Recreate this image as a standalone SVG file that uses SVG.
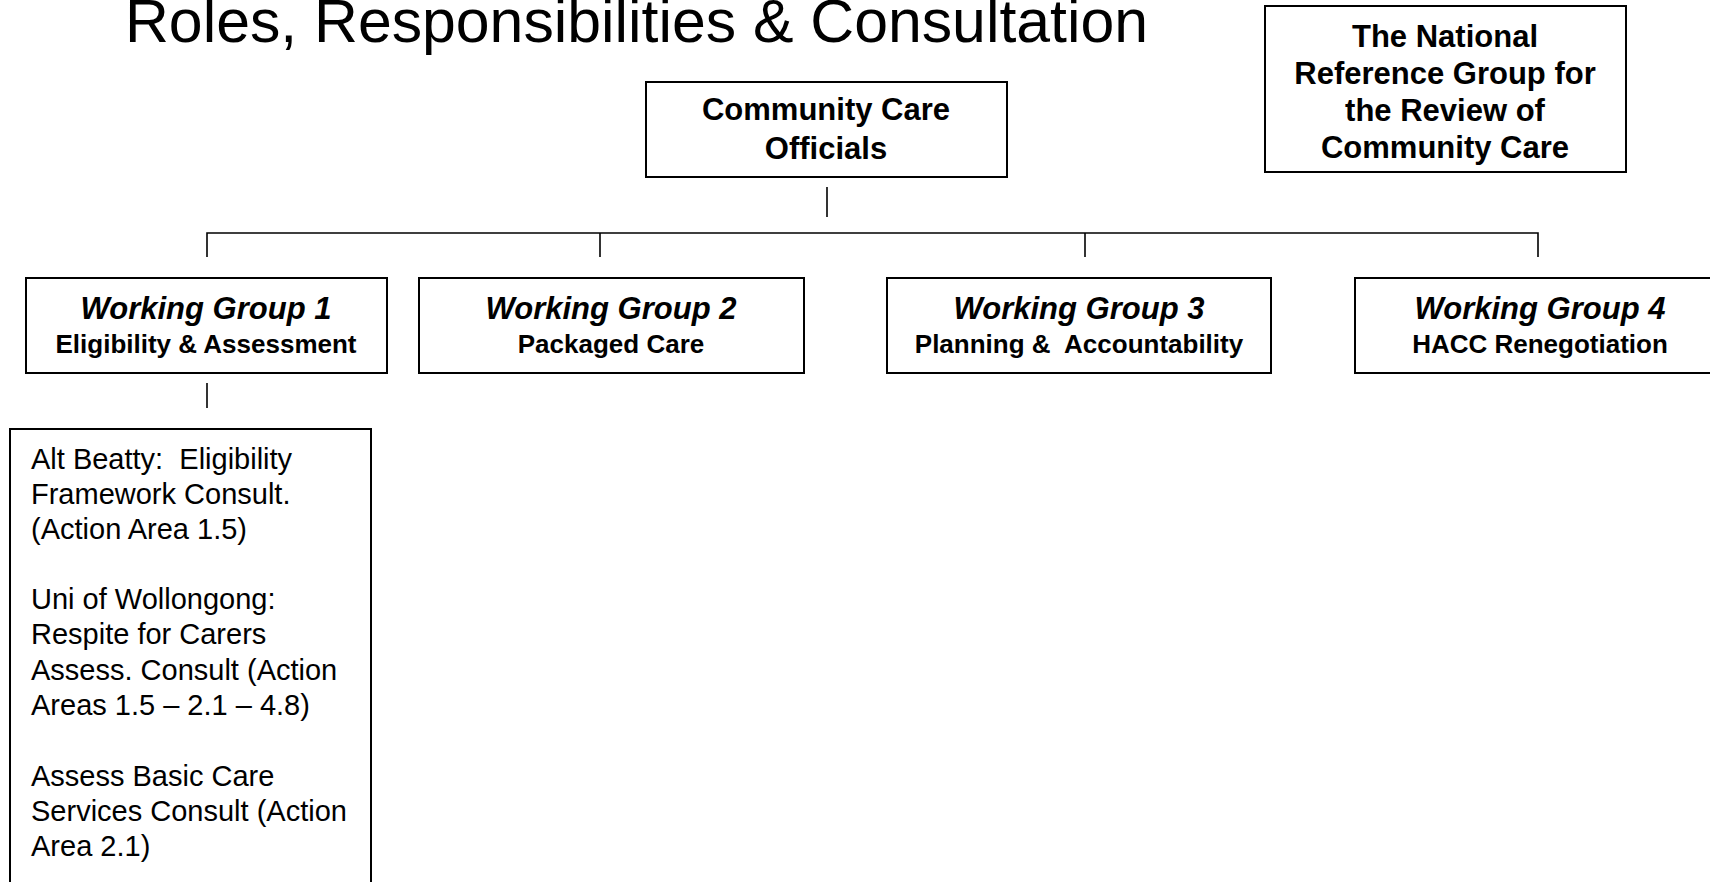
<svg xmlns="http://www.w3.org/2000/svg" width="1710" height="882" viewBox="0 0 1710 882">
<style>
.box{fill:#fff;stroke:#000;stroke-width:2}
.con{stroke:#000;stroke-width:1.6;fill:none}
.t{font-family:"Liberation Sans",Arial,sans-serif;fill:#000}
.b{font-weight:bold}
.h{font-weight:bold;font-style:italic;font-size:31px}
.s{font-weight:bold;font-size:26px}
.r{font-size:29px;white-space:pre}
</style>
<rect width="1710" height="882" fill="#fff"/>
<text class="t" x="125" y="42" font-size="61" textLength="1023" lengthAdjust="spacingAndGlyphs">Roles, Responsibilities &amp; Consultation</text>
<g id="connectors">
<line class="con" x1="827" y1="187" x2="827" y2="217"/>
<polyline class="con" points="207,257 207,233 1538,233 1538,257"/>
<line class="con" x1="600" y1="233" x2="600" y2="257"/>
<line class="con" x1="1085" y1="233" x2="1085" y2="257"/>
<line class="con" x1="207" y1="383" x2="207" y2="408"/>
</g>
<g id="national-reference-group">
<rect class="box" x="1265" y="6" width="361" height="166"/>
<text class="t b" font-size="31" text-anchor="middle"><tspan x="1445" y="47">The National</tspan><tspan x="1445" y="84">Reference Group for</tspan><tspan x="1445" y="121">the Review of</tspan><tspan x="1445" y="158">Community Care</tspan></text>
</g>
<g id="community-care-officials">
<rect class="box" x="646" y="82" width="361" height="95"/>
<text class="t b" font-size="31" text-anchor="middle"><tspan x="826" y="120">Community Care</tspan><tspan x="826" y="159">Officials</tspan></text>
</g>
<g id="wg1">
<rect class="box" x="26" y="278" width="361" height="95"/>
<text class="t h" x="206" y="319" text-anchor="middle">Working Group 1</text>
<text class="t s" x="206" y="353" text-anchor="middle">Eligibility &amp; Assessment</text>
</g>
<g id="wg2">
<rect class="box" x="419" y="278" width="385" height="95"/>
<text class="t h" x="611" y="319" text-anchor="middle">Working Group 2</text>
<text class="t s" x="611" y="353" text-anchor="middle">Packaged Care</text>
</g>
<g id="wg3">
<rect class="box" x="887" y="278" width="384" height="95"/>
<text class="t h" x="1079" y="319" text-anchor="middle">Working Group 3</text>
<text class="t s" x="1079" y="353" text-anchor="middle" style="white-space:pre">Planning &amp;  Accountability</text>
</g>
<g id="wg4">
<rect class="box" x="1355" y="278" width="370" height="95"/>
<text class="t h" x="1540" y="319" text-anchor="middle">Working Group 4</text>
<text class="t s" x="1540" y="353" text-anchor="middle">HACC Renegotiation</text>
</g>
<g id="wg1-consultations">
<rect class="box" x="10" y="429" width="361" height="480"/>
<text class="t r"><tspan x="31" y="469">Alt Beatty:  Eligibility</tspan><tspan x="31" y="504">Framework Consult.</tspan><tspan x="31" y="539">(Action Area 1.5)</tspan><tspan x="31" y="609">Uni of Wollongong:</tspan><tspan x="31" y="644">Respite for Carers</tspan><tspan x="31" y="680">Assess. Consult (Action</tspan><tspan x="31" y="715">Areas 1.5 – 2.1 – 4.8)</tspan><tspan x="31" y="786">Assess Basic Care</tspan><tspan x="31" y="821">Services Consult (Action</tspan><tspan x="31" y="856">Area 2.1)</tspan></text>
</g>
</svg>
